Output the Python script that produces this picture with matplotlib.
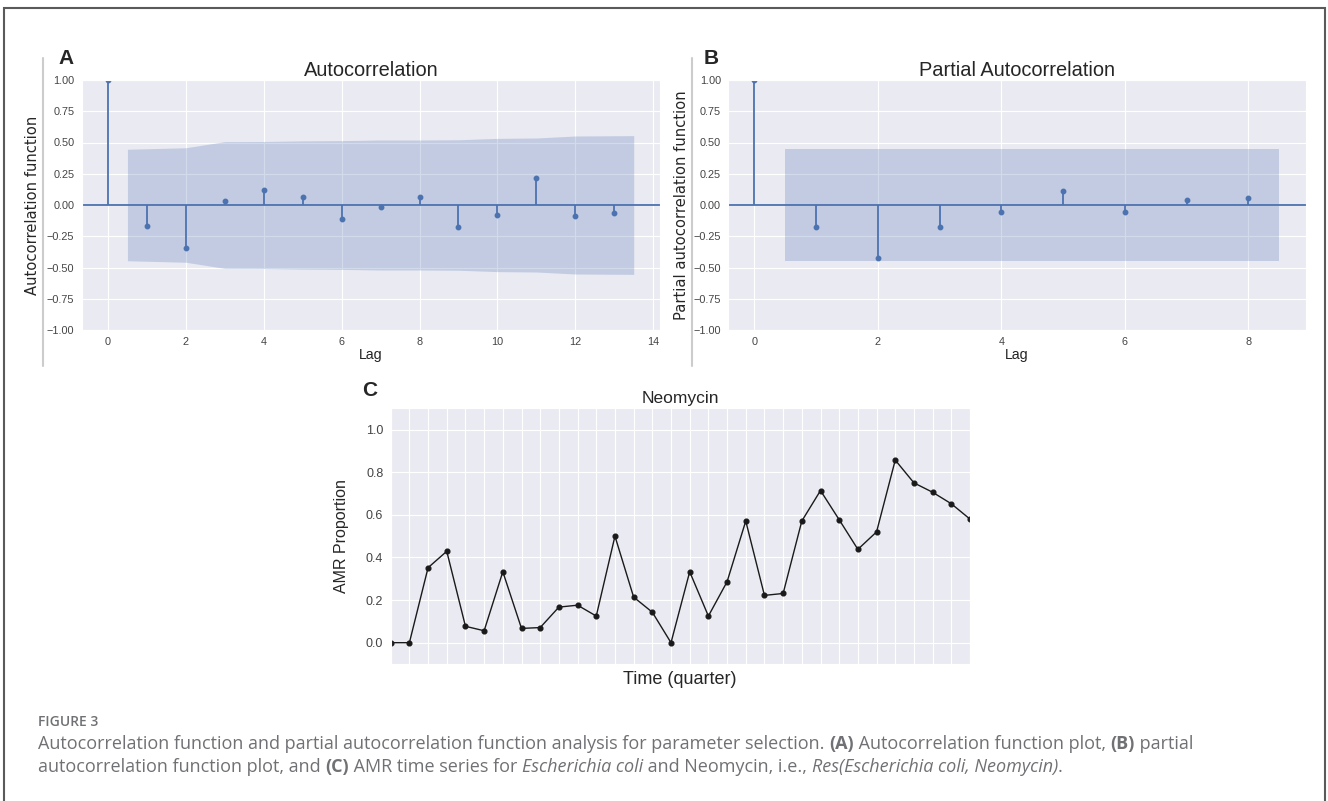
import matplotlib
matplotlib.use("Agg")
import matplotlib.pyplot as plt
import seaborn as sns
from matplotlib.lines import Line2D
from matplotlib.patches import Rectangle

# panel A: autocorrelation, lags 0..13
acf_lags = [0, 1, 2, 3, 4, 5, 6, 7, 8, 9, 10, 11, 12, 13]
acf_vals = [1.0, -0.168, -0.344, 0.029, 0.123, 0.067, -0.115, -0.013, 0.067, -0.173, -0.083, 0.213, -0.085, -0.061]
# half width of the confidence band for lags 1..13
acf_conf = [0.446, 0.458, 0.507, 0.508, 0.513, 0.515, 0.520, 0.520, 0.522, 0.533, 0.536, 0.552, 0.555]

# panel B: partial autocorrelation, lags 0..8
pacf_lags = [0, 1, 2, 3, 4, 5, 6, 7, 8]
pacf_vals = [1.0, -0.179, -0.427, -0.173, -0.053, 0.112, -0.053, 0.040, 0.053]
pacf_conf = [0.446, 0.446, 0.446, 0.446, 0.446, 0.446, 0.446, 0.446]

# panel C: AMR proportion per quarter
quarters = list(range(32))
amr = [0.0, 0.0, 0.352, 0.429, 0.077, 0.056, 0.333, 0.067, 0.071, 0.167, 0.176, 0.125,
       0.5, 0.214, 0.143, 0.0, 0.333, 0.125, 0.286, 0.571, 0.222, 0.231, 0.571, 0.714,
       0.577, 0.438, 0.52, 0.857, 0.75, 0.706, 0.652, 0.58]

W, H = 1328, 801
blue = "#4c72b0"
cap_color = "#707174"
cap_font = "Open Sans"

sns.set_style("darkgrid")
plt.rcParams["font.family"] = ["Liberation Sans", "DejaVu Sans"]
plt.rcParams["axes.unicode_minus"] = True

fig = plt.figure(figsize=(W / 100, H / 100), dpi=100)


def rect(l, t, r, b):
    return [l / W, 1 - b / H, (r - l) / W, (b - t) / H]


def fx(x):
    return x / W


def fy(y):
    return 1 - y / H


def corr_panel(ax, lags, vals, conf):
    band_x = [float(v) for v in lags[1:]]
    band_x[0] -= 0.5
    band_x[-1] += 0.5
    ax.fill_between(band_x, [-c for c in conf], conf, color=blue, alpha=0.25, linewidth=0)
    ax.vlines(lags, 0, vals, color=blue, linewidth=1.3)
    ax.plot(lags, vals, "o", color=blue, markersize=3.2)
    ax.axhline(0, color=blue, linewidth=1.3)
    ax.set_ylim(-1, 1)
    ax.set_yticks([-1, -0.75, -0.5, -0.25, 0, 0.25, 0.5, 0.75, 1])
    ax.set_yticklabels(["\u22121.00", "\u22120.75", "\u22120.50", "\u22120.25", "0.00",
                        "0.25", "0.50", "0.75", "1.00"])
    ax.tick_params(labelsize=7.8, colors="#444444", pad=5.2, length=0)


axA = fig.add_axes(rect(81.7, 80, 660, 330))
corr_panel(axA, acf_lags, acf_vals, acf_conf)
axA.set_xticks([0, 2, 4, 6, 8, 10, 12, 14])

axB = fig.add_axes(rect(728.2, 80, 1305.5, 330))
corr_panel(axB, pacf_lags, pacf_vals, pacf_conf)
axB.set_xticks([0, 2, 4, 6, 8])

for ax, cx, title in [(axA, 371, "Autocorrelation"), (axB, 1017, "Partial Autocorrelation")]:
    fig.text(fx(cx), fy(71), title, fontsize=14.4, ha="center", va="center")
    fig.text(fx(cx), fy(355), "Lag", fontsize=10.2, ha="center", va="center", color="#222222")

fig.text(fx(33), fy(205), "Autocorrelation function", rotation=90, fontsize=10.6,
         family="DejaVu Sans", ha="center", va="center")
fig.text(fx(681), fy(205), "Partial autocorrelation function", rotation=90, fontsize=10.6,
         family="DejaVu Sans", ha="center", va="center")

# light rules left of the top panels
for x in (43, 692):
    fig.add_artist(Line2D([fx(x), fx(x)], [fy(58), fy(366)], color="#cccccc", linewidth=1.5))

fig.text(fx(66), fy(58), "A", fontsize=15, weight="bold", ha="center", va="center")
fig.text(fx(711), fy(58), "B", fontsize=15, weight="bold", ha="center", va="center")
fig.text(fx(370), fy(390), "C", fontsize=15, weight="bold", ha="center", va="center")

# panel C
axC = fig.add_axes(rect(390.7, 408.3, 970, 664))
axC.plot(quarters, amr, "-o", color="#1a1a1a", linewidth=1.0, markersize=3.4)
axC.set_xlim(0, 31)
axC.set_ylim(-0.1, 1.1)
axC.set_xticks(quarters)
axC.set_xticklabels([])
axC.set_yticks([0, 0.2, 0.4, 0.6, 0.8, 1.0])
axC.set_yticklabels(["0.0", "0.2", "0.4", "0.6", "0.8", "1.0"])
axC.tick_params(labelsize=9, colors="#444444", pad=5.3, length=0)
axC.set_ylabel("AMR Proportion", fontsize=11.5, labelpad=12)
fig.text(fx(680), fy(399), "Neomycin", fontsize=12.5, ha="center", va="center")
fig.text(fx(680), fy(680), "Time (quarter)", fontsize=13, ha="center", va="center")

# outer frame
fig.add_artist(Rectangle((fx(4.3), fy(805)), fx(1325.3) - fx(4.3), fy(8.3) - fy(805),
                         fill=False, edgecolor="#5a5a5a", linewidth=1.5))

# caption
renderer = fig.canvas.get_renderer()


def caption_line(y, runs, size=13.0):
    x = 38
    for s, weight, style in runs:
        t = fig.text(fx(x), fy(y), s, fontsize=size, family=cap_font, weight=weight,
                     style=style, color=cap_color, ha="left", va="center")
        x += t.get_window_extent(renderer).width
    return x


fig.text(fx(38), fy(722), "FIGURE 3", fontsize=10, family=cap_font, weight="semibold",
         color=cap_color, ha="left", va="center")
caption_line(744, [
    ("Autocorrelation function and partial autocorrelation function analysis for parameter selection. ", "normal", "normal"),
    ("(A)", "bold", "normal"),
    (" Autocorrelation function plot, ", "normal", "normal"),
    ("(B)", "bold", "normal"),
    (" partial", "normal", "normal"),
])
caption_line(767, [
    ("autocorrelation function plot, and ", "normal", "normal"),
    ("(C)", "bold", "normal"),
    (" AMR time series for ", "normal", "normal"),
    ("Escherichia coli", "normal", "italic"),
    (" and Neomycin, i.e., ", "normal", "normal"),
    ("Res(Escherichia coli, Neomycin)", "normal", "italic"),
    (".", "normal", "normal"),
])

fig.savefig("out.png", dpi=100)
